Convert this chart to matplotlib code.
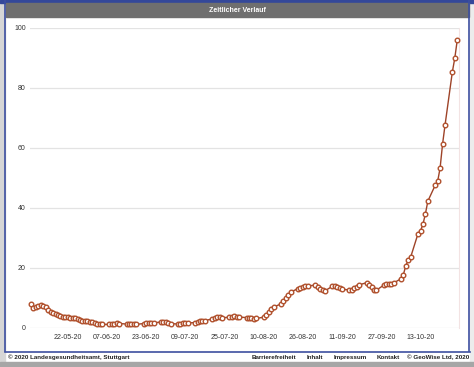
import pandas as pd
import matplotlib.pyplot as plt
import matplotlib.dates as mdates
from matplotlib.patches import Rectangle

plt.rcParams['font.family'] = ['Liberation Sans', 'DejaVu Sans']

# daily values in May, weekdays only from June on
may_dates = pd.date_range('2020-05-07', '2020-05-31', freq='D')
may_values = [8.0, 6.6, 7.1, 7.5, 7.7, 7.3, 6.9, 6.1, 5.4, 5.0,
              4.7, 4.2, 3.9, 3.7, 3.6, 3.6, 3.5, 3.5, 3.3, 2.9,
              2.6, 2.4, 2.4, 2.3, 2.0]

later_dates = pd.bdate_range('2020-06-01', '2020-10-28')
later_values = [
    1.9, 1.7, 1.5, 1.3, 1.2,        # Jun 1-5
    1.2, 1.3, 1.4, 1.6, 1.5,        # Jun 8-12
    1.3, 1.2, 1.2, 1.3, 1.2,        # Jun 15-19
    1.5, 1.7, 1.8, 1.8, 1.7,        # Jun 22-26
    2.0, 2.1, 1.9, 1.6, 1.5,        # Jun 29 - Jul 3
    1.3, 1.5, 1.6, 1.8, 1.7,        # Jul 6-10
    1.8, 2.0, 2.2, 2.3, 2.5,        # Jul 13-17
    3.0, 3.3, 3.6, 3.6, 3.4,        # Jul 20-24
    3.6, 3.8, 3.9, 3.8, 3.6,        # Jul 27-31
    3.5, 3.3, 3.2, 3.1, 3.2,        # Aug 3-7
    3.6, 4.3, 5.2, 6.2, 7.0,        # Aug 10-14
    8.0, 9.0, 10.0, 11.0, 12.0,     # Aug 17-21
    13.1, 13.5, 13.7, 13.9, 14.0,   # Aug 24-28
    14.3, 13.6, 13.0, 12.6, 12.4,   # Aug 31 - Sep 4
    13.9, 14.1, 13.7, 13.2, 12.9,   # Sep 7-11
    12.7, 12.8, 13.3, 13.8, 14.4,   # Sep 14-18
    15.1, 14.5, 13.8, 12.8, 12.6,   # Sep 21-25
    14.3, 14.6, 14.8, 14.7, 15.0,   # Sep 28 - Oct 2
    16.4, 17.8, 20.8, 22.6, 23.7,   # Oct 5-9
    31.5, 32.4, 34.6, 38.1, 42.3,   # Oct 12-16
    47.6, 48.9, 53.4, 61.3, 67.6,   # Oct 19-23
    85.4, 90.0, 96.0,               # Oct 26-28
]

dates = list(may_dates) + list(later_dates)
values = may_values + later_values

tick_dates = pd.date_range('2020-05-22', '2020-10-13', freq='16D')
y_ticks = [0, 20, 40, 60, 80, 100]

W, H = 474, 367


def page_frame(fig):
    # overlay in pixel coordinates for the web page around the chart
    bg = fig.add_axes([0, 0, 1, 1], zorder=-1)
    bg.set_xlim(0, W)
    bg.set_ylim(H, 0)
    bg.axis('off')
    bg.add_patch(Rectangle((0, 0), 5, H, color='#d6d6d6'))
    bg.add_patch(Rectangle((470, 0), 4, H, color='#ececec'))
    bg.add_patch(Rectangle((0, 0), W, 3, color='#34489a'))
    bg.add_patch(Rectangle((6, 3), 463, 14, color='#6f6f6f'))
    bg.plot([5.5, 5.5], [0, 351], color='#3d4fa0', lw=1.2)
    bg.plot([469.5, 469.5], [0, 351], color='#3d4fa0', lw=1.2)
    bg.plot([5, 470], [351.5, 351.5], color='#3d4fa0', lw=1.2)
    bg.add_patch(Rectangle((0, 362), W, 5, color='#a6a6a6'))
    bg.text(237, 10.5, 'Zeitlicher Verlauf', color='white', fontsize=5,
            fontweight='bold', ha='center', va='center')
    foot = dict(fontsize=4.5, fontweight='bold', color='#222222', va='center')
    bg.text(8, 357.5, '© 2020 Landesgesundheitsamt, Stuttgart', ha='left', **foot)
    for x, s in [(252, 'Barrierefreiheit'), (307, 'Inhalt'), (334, 'Impressum'),
                 (377, 'Kontakt'), (407, '© GeoWise Ltd, 2020')]:
        bg.text(x, 357.5, s, ha='left', **foot)


def to_matplotlib_plot():
    fig = plt.figure(figsize=(W / 100, H / 100), dpi=100)
    fig.patch.set_facecolor('white')
    page_frame(fig)

    left, right, top, bottom = 30, 459, 28, 328
    ax = fig.add_axes([left / W, 1 - bottom / H, (right - left) / W, (bottom - top) / H])
    ax.set_facecolor('none')
    ax.plot(dates, values, color='#9e4328', lw=1.0, marker='o', markersize=3.3,
            markerfacecolor='white', markeredgecolor='#b0502c', markeredgewidth=1.0,
            clip_on=False, zorder=3)

    ax.set_ylim(0, 100)
    ax.set_xlim(pd.Timestamp('2020-05-07') - pd.Timedelta(hours=10),
                pd.Timestamp('2020-10-28') + pd.Timedelta(hours=17))
    ax.set_yticks(y_ticks)
    ax.set_yticklabels([str(v) for v in y_ticks])
    ax.set_xticks(tick_dates)
    ax.xaxis.set_major_formatter(mdates.DateFormatter('%d-%m-%y'))
    ax.tick_params(length=0, labelsize=5, colors='#333333')
    ax.tick_params(axis='y', pad=3)
    ax.tick_params(axis='x', pad=4)
    ax.grid(axis='y', color='#e3e3e3', lw=0.9)
    ax.set_axisbelow(True)
    for side in ['top', 'left', 'bottom']:
        ax.spines[side].set_visible(False)
    ax.spines['right'].set_color('#f3e3e3')
    ax.spines['right'].set_linewidth(0.8)

    plt.savefig('out.png', dpi=100)


def main():
    to_matplotlib_plot()


if __name__ == '__main__':
    main()
